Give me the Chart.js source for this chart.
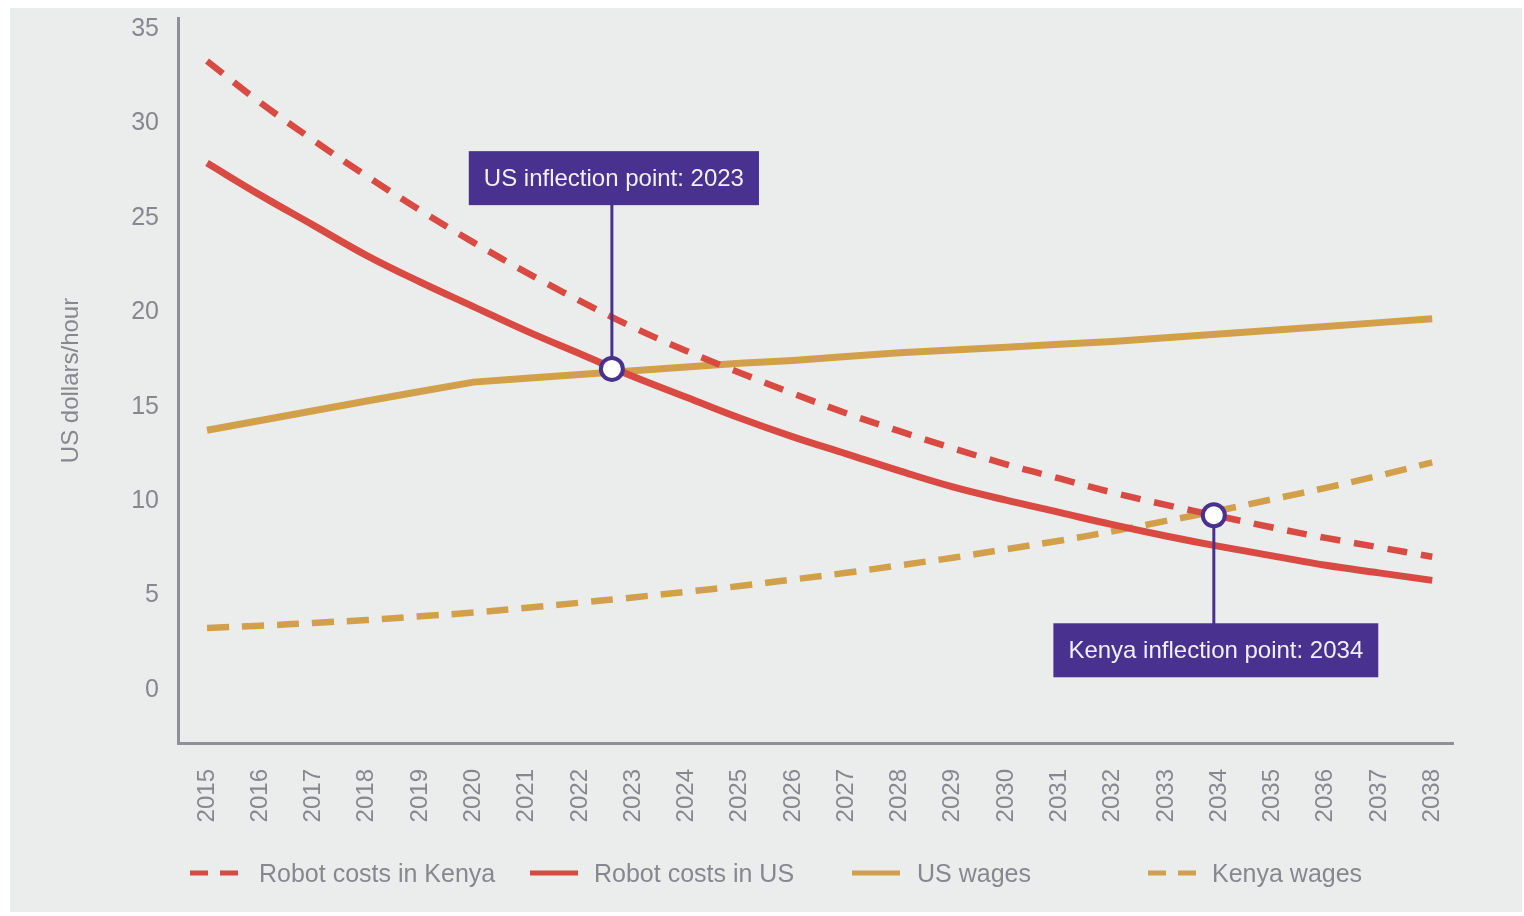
<!DOCTYPE html>
<html><head><meta charset="utf-8">
<script src="https://cdn.jsdelivr.net/npm/chart.js@4/dist/chart.umd.min.js"></script>
<style>html,body{margin:0;padding:0;background:#fff;}#wrap{width:1524px;height:916px;position:relative}</style>
</head><body><div id="wrap"><canvas id="c" width="1524" height="916"></canvas></div>
<script>
const years = [2015,2016,2017,2018,2019,2020,2021,2022,2023,2024,2025,2026,2027,2028,2029,2030,2031,2032,2033,2034,2035,2036,2037,2038];
const robotKenya = [33.3,31.1,29.1,27.2,25.4,23.7,22.1,20.6,19.2,17.95,16.8,15.7,14.65,13.7,12.8,11.95,11.2,10.45,9.8,9.2,8.6,8.05,7.55,7.05];
const robotUS = [27.9,26.2,24.6,23.0,21.6,20.3,19.0,17.8,16.6,15.5,14.4,13.4,12.5,11.6,10.75,10.05,9.4,8.75,8.15,7.6,7.1,6.6,6.2,5.8];
const usWages = [13.75,14.27,14.78,15.3,15.8,16.3,16.5,16.7,16.9,17.1,17.3,17.45,17.65,17.85,18.0,18.15,18.3,18.45,18.65,18.85,19.05,19.25,19.45,19.65];
const kenyaWages = [3.28,3.4,3.55,3.7,3.9,4.1,4.35,4.62,4.9,5.2,5.5,5.85,6.2,6.6,7.0,7.45,7.9,8.4,8.95,9.5,10.1,10.7,11.35,12.05];
const yTicks = [0,5,10,15,20,25,30,35];
const seriesNames = ['Robot costs in Kenya','Robot costs in US','US wages','Kenya wages'];
const inflectionYears = [2022.6, 2033.9];
const inflectionValues = [17.0, 9.25];
const inflectionLabels = ['US inflection point: 2023','Kenya inflection point: 2034'];
const labelAnchorValues = [27.1, 2.1];

const RED = '#d84a42', GOLD = '#d2a04a', PURPLE = '#48318f', GRAY = '#87878f', AXIS = '#8f9099';
const FONT = "'Liberation Sans', Arial, sans-serif";

const pts = arr => years.map((y,i)=>({x:y, y:arr[i]}));

const bgPlugin = {
  id:'bg',
  beforeDraw(chart){
    const ctx = chart.ctx;
    ctx.save();
    ctx.fillStyle = '#ffffff';
    ctx.fillRect(0,0,chart.width,chart.height);
    ctx.fillStyle = '#ebeded';
    ctx.fillRect(10,8,1512,904);
    ctx.restore();
  }
};

const annoPlugin = {
  id:'anno',
  beforeDatasetDraw(chart, args){
    if (args.index !== 4) return;
    const ctx = chart.ctx, xs = chart.scales.x, ys = chart.scales.y;
    ctx.save();
    ctx.font = '24px ' + FONT;
    inflectionYears.forEach((yr,i)=>{
      const px = xs.getPixelForValue(yr);
      const py = ys.getPixelForValue(inflectionValues[i]);
      const by = ys.getPixelForValue(labelAnchorValues[i]);
      const tw = ctx.measureText(inflectionLabels[i]).width;
      const w = tw + 30, h = 54;
      const bx = px - w/2 + 2;
      ctx.strokeStyle = PURPLE; ctx.lineWidth = 3;
      ctx.beginPath(); ctx.moveTo(px, by); ctx.lineTo(px, py); ctx.stroke();
      ctx.fillStyle = PURPLE;
      ctx.fillRect(bx, by - h/2, w, h);
      ctx.fillStyle = '#f1eff8';
      ctx.textAlign = 'center'; ctx.textBaseline = 'middle';
      ctx.fillText(inflectionLabels[i], bx + w/2, by + 1);
    });
    ctx.restore();
  }
};

const legendPlugin = {
  id:'customLegend',
  afterDraw(chart){
    const ctx = chart.ctx;
    const xsPos = [190, 530, 852, 1148];
    const textOff = [69, 64, 65, 64];
    const yc = 875;
    ctx.save();
    ctx.font = '25px ' + FONT;
    ctx.textBaseline = 'middle'; ctx.textAlign = 'left';
    for (let i=0;i<4;i++){
      const ds = chart.data.datasets[i];
      const x = xsPos[i];
      ctx.strokeStyle = ds.borderColor; ctx.lineWidth = 5; ctx.lineCap = 'butt';
      ctx.setLineDash(ds.borderDash && ds.borderDash.length ? [18,12] : []);
      ctx.beginPath(); ctx.moveTo(x, yc-2); ctx.lineTo(x+48, yc-2); ctx.stroke();
      ctx.setLineDash([]);
      ctx.fillStyle = GRAY;
      ctx.fillText(ds.label, x + textOff[i], yc);
    }
    ctx.restore();
  }
};

new Chart(document.getElementById('c'), {
  type:'line',
  data:{
    datasets:[
      {label:seriesNames[0], data:pts(robotKenya), borderColor:RED, borderWidth:6.5, borderDash:[20,14], pointRadius:0, tension:0.4, fill:false},
      {label:seriesNames[1], data:pts(robotUS), borderColor:RED, borderWidth:7, pointRadius:0, tension:0.4, fill:false},
      {label:seriesNames[2], data:pts(usWages), borderColor:GOLD, borderWidth:7, pointRadius:0, tension:0, fill:false},
      {label:seriesNames[3], data:pts(kenyaWages), borderColor:GOLD, borderWidth:6.5, borderDash:[22,13], pointRadius:0, tension:0.4, fill:false},
      {type:'scatter', label:'Inflection points', data:inflectionYears.map((y,i)=>({x:y,y:inflectionValues[i]})), pointRadius:11, pointBackgroundColor:'#ffffff', pointBorderColor:PURPLE, pointBorderWidth:4, showLine:false, order:-1}
    ]
  },
  options:{
    responsive:false, animation:false,
    layout:{padding:{left:0, top:18, right:71, bottom:0}},
    plugins:{legend:{display:false}, tooltip:{enabled:false}},
    scales:{
      x:{
        type:'linear', min:2014.455, max:2038.39,
        afterBuildTicks(s){ s.ticks = years.map(v=>({value:v})); },
        afterFit(s){ s.height = 173; s.paddingLeft = 0; s.paddingRight = 0; },
        grid:{display:false, drawTicks:false},
        border:{display:true, color:AXIS, width:3},
        ticks:{autoSkip:false, minRotation:90, maxRotation:90, padding:26, color:GRAY, font:{family:FONT, size:24}, callback:v=>String(v)}
      },
      y:{
        type:'linear', min:-2.81, max:35.58,
        afterBuildTicks(s){ s.ticks = yTicks.map(v=>({value:v})); },
        afterFit(s){ s.width = 178; s.paddingTop = 0; s.paddingBottom = 0; },
        grid:{display:false, drawTicks:false},
        border:{display:true, color:AXIS, width:3},
        ticks:{padding:19, color:GRAY, font:{family:FONT, size:25}},
        title:{display:true, text:'US dollars/hour', color:GRAY, font:{family:FONT, size:24}, padding:{top:57, bottom:0}}
      }
    }
  },
  plugins:[bgPlugin, annoPlugin, legendPlugin]
});
</script>
</body></html>
